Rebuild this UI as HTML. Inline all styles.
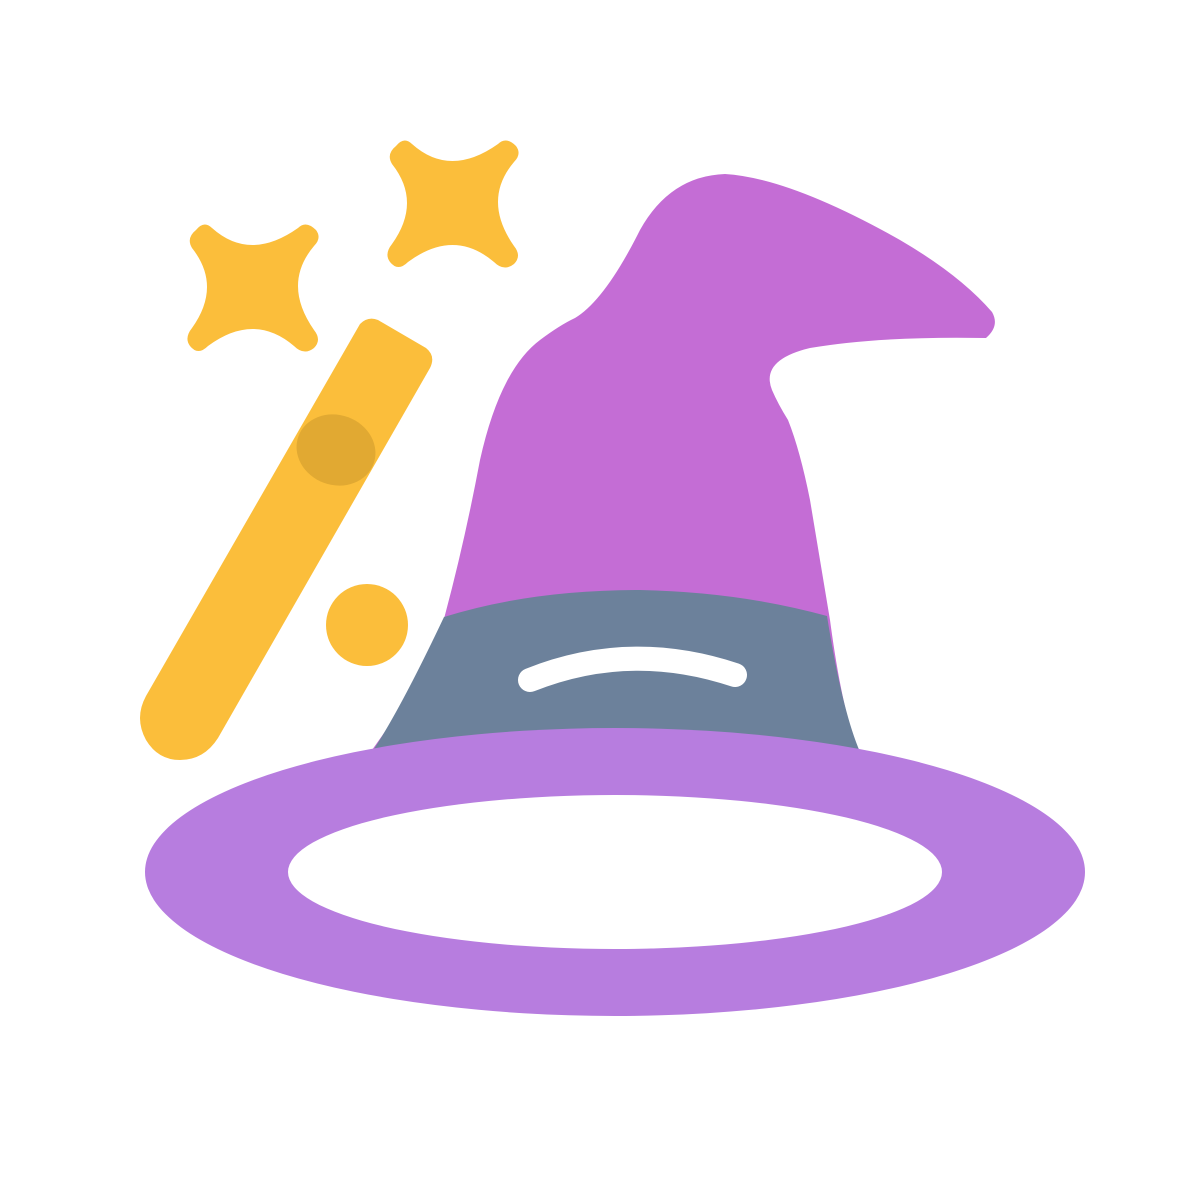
<!DOCTYPE html>
<html><head><style>html,body{margin:0;padding:0;background:#fff}svg{display:block}</style></head>
<body>
<svg width="1200" height="1200" viewBox="0 0 1200 1200" xmlns="http://www.w3.org/2000/svg">
<rect width="1200" height="1200" fill="#fff"/>
<path d="M196,230 Q204,220 212,228 Q250,262 298,228 Q306,220 316,230 Q322,238 314,246 Q282,284 314,330 Q322,340 314,348 Q304,356 294,346 Q254,312 208,346 Q198,356 190,346 Q184,338 192,328 Q222,286 192,248 Q186,238 196,230 Z" fill="#fbbe3b"/>
<path d="M396,146 Q404,136 412,144 Q450,178 498,144 Q506,136 516,146 Q522,154 514,162 Q482,200 514,246 Q522,256 514,264 Q504,272 494,262 Q454,228 408,262 Q398,272 390,262 Q384,254 392,244 Q422,202 392,164 Q386,154 396,146 Z" fill="#fbbe3b"/>
<path d="M360,324 Q368,316 378,320 L426,348 Q436,356 430,368 L218,738 Q204,760 180,760 Q158,760 146,740 Q134,718 146,696 Z" fill="#fbbe3b"/>
<ellipse cx="336" cy="450" rx="40" ry="35" transform="rotate(20 336 450)" fill="#e1a932"/>
<circle cx="367" cy="625" r="41" fill="#fbbe3b"/>
<path d="M372,750 Q430,670 445,615 Q465,540 480,460 Q500,370 540,340 Q560,325 575,318 Q605,300 640,230 Q670,176 725,174 Q790,178 900,240 Q960,275 992,312 Q1000,326 986,338 Q880,336 810,348 Q760,360 772,390 Q778,404 788,420 Q800,450 810,500 Q820,560 830,620 Q842,710 858,750 Z" fill="#c46dd5"/>
<path d="M444,617 Q530,590 640,590 Q740,592 827,616 Q842,710 860,752 L372,752 Q400,710 444,617 Z" fill="#6c819b"/>
<path d="M530,680 Q630,640 735,675" fill="none" stroke="#fff" stroke-width="24" stroke-linecap="round"/>
<ellipse cx="615" cy="872" rx="470" ry="144" fill="#b77ddf"/>
<ellipse cx="615" cy="872" rx="327" ry="77" fill="#fff"/>
</svg>
</body></html>
